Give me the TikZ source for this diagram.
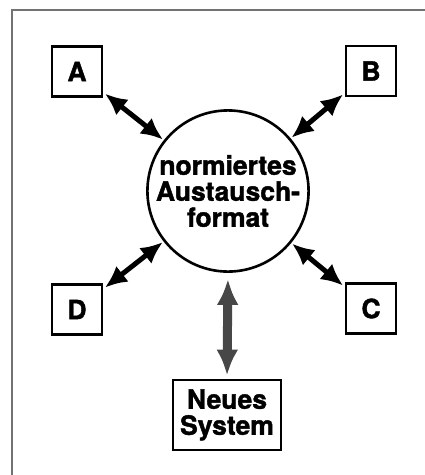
\documentclass[tikz,border=0pt]{standalone}
\usepackage{fontspec}
\setmainfont{TeX Gyre Heros}[BoldFeatures={FakeBold=1.5}]
\usetikzlibrary{arrows.meta}

\tikzset{
	beschriftung/.style={font=\bfseries\fontsize{26.5}{26}\selectfont},
	kasten/.style={draw, line width=2.8pt, minimum width=50pt, minimum height=50pt, inner sep=0pt, beschriftung},
	pfeil/.style={line width=5pt, {Latex[length=22pt,width=20pt]}-{Latex[length=22pt,width=20pt]}, shorten <=2pt, shorten >=1pt},
	graupfeil/.style={line width=9pt, black!72, {Latex[length=26pt,width=22pt]}-{Latex[length=26pt,width=22pt]}, shorten <=6pt, shorten >=3pt}
}

\begin{document}
\begin{tikzpicture}[x=1pt,y=-1pt]
		\useasboundingbox (0,0) rectangle (425,475);
		% Rahmen
		\draw[black!55, line width=1.3pt] (12,476) -- (12,10) -- (426,10);
		
		% Austauschformat
		\node[draw, circle, line width=2.6pt, minimum size=160pt, inner sep=0pt, align=center, beschriftung] (format) at (228,191) {normiertes\\Austausch-\\format};
		
		% Systeme
		\node[kasten] (A) at (77,71.5) {A};
		\node[kasten] (B) at (371,71) {B};
		\node[kasten] (C) at (371,308.5) {C};
		\node[kasten] (D) at (77,309.5) {D};
		\node[kasten, minimum width=108pt, minimum height=70pt, align=center] (neu) at (227,415) {Neues\\System};
		
		% Verbindungen
		\draw[pfeil] (A) -- (format);
		\draw[pfeil] (B) -- (format);
		\draw[pfeil] (C) -- (format);
		\draw[pfeil] (D) -- (format);
		\draw[graupfeil] (format.south) -- (neu.north);
		
\end{tikzpicture}
\end{document}
